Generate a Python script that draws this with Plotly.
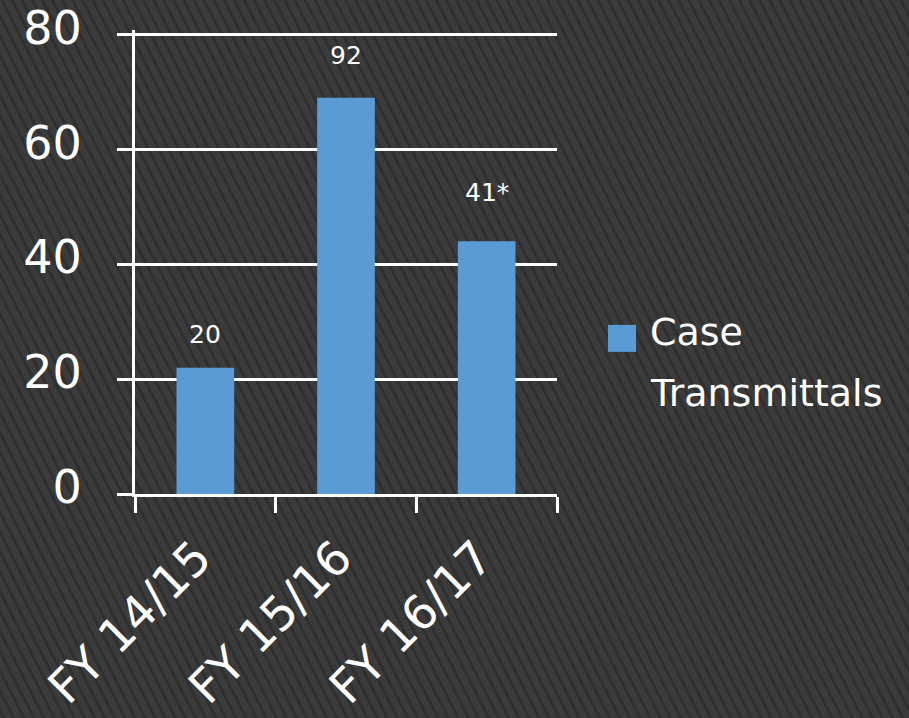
import base64
import plotly.graph_objects as go

# ---- data ----
categories = ["FY 14/15", "FY 15/16", "FY 16/17"]
bar_values = [22, 69, 44]
bar_labels = ["20", "92", "41*"]
series_name = "Case Transmittals"
y_ticks = [0, 20, 40, 60, 80]
y_max = 80

BAR_COLOR = "#5b9bd5"
FONT = "DejaVu Sans, Verdana, sans-serif"
LABEL_LIFT = [33, 42, 49]

W, H = 909, 718
Y_ZERO_PX, Y_MAX_PX = 494, 35          # pixel rows of 0 and y_max
HEADROOM = 0.8                          # extra range so the top gridline is drawn
PX_PER_UNIT = (Y_ZERO_PX - Y_MAX_PX) / y_max
L, R = 135, 557
B = Y_ZERO_PX
T = Y_MAX_PX - HEADROOM * PX_PER_UNIT


def px(x):
    return (x - L) / (R - L)


def py(y):
    return (B - y) / (B - T)


# striped background (decoration)
svg = (
    f'<svg xmlns="http://www.w3.org/2000/svg" width="{W}" height="{H}">'
    '<defs><pattern id="p" width="9" height="9" patternUnits="userSpaceOnUse" '
    'patternTransform="rotate(-27)">'
    '<rect width="9" height="9" fill="#3b3b3b"/>'
    '<rect x="0" y="0" width="3" height="9" fill="#2f2f2f"/>'
    '</pattern></defs>'
    f'<rect width="{W}" height="{H}" fill="url(#p)"/></svg>'
)
bg_uri = "data:image/svg+xml;base64," + base64.b64encode(svg.encode()).decode()

fig = go.Figure()
fig.add_trace(go.Bar(
    x=categories, y=bar_values, name=series_name,
    marker=dict(color=BAR_COLOR, line=dict(width=0)),
    showlegend=False, hoverinfo="skip",
))

for c, v, t, lift in zip(categories, bar_values, bar_labels, LABEL_LIFT):
    fig.add_annotation(x=c, y=v, text=t, showarrow=False, yshift=lift,
                       font=dict(size=25, color="white", family=FONT),
                       xref="x", yref="y")

# legend key + text
fig.add_shape(type="rect", xref="paper", yref="paper",
              x0=px(608), x1=px(636), y0=py(352), y1=py(325),
              fillcolor=BAR_COLOR, line=dict(width=0))
words = series_name.split(" ")
for i, w in enumerate(words):
    fig.add_annotation(xref="paper", yref="paper", x=px(648), y=py(332 + 61 * i),
                       xanchor="left", yanchor="middle", text=w, showarrow=False,
                       font=dict(size=38, color="white", family=FONT))

fig.update_layout(
    width=W, height=H,
    margin=dict(l=L, r=W - R, t=T, b=H - B, autoexpand=False),
    paper_bgcolor="#3b3b3b", plot_bgcolor="rgba(0,0,0,0)",
    bargap=0.59,
    images=[dict(source=bg_uri, xref="paper", yref="paper", x=px(0), y=py(0),
                 sizex=W / (R - L), sizey=H / (B - T), xanchor="left", yanchor="top",
                 sizing="stretch", layer="below")],
    font=dict(family=FONT, color="white"),
)
fig.update_xaxes(
    showline=True, linecolor="white", linewidth=3,
    ticks="outside", tickson="boundaries", ticklen=16, tickwidth=3, tickcolor="white",
    tickangle=-45, tickfont=dict(size=47, color="white", family=FONT),
    ticklabelstandoff=14, ticklabelshift=-8, ticklabeloverflow="allow",
    showgrid=False,
)
fig.update_yaxes(
    range=[0, y_max + HEADROOM], tickvals=y_ticks, showline=True, linecolor="white",
    linewidth=3, ticks="outside", ticklen=15, tickwidth=3, tickcolor="white",
    showgrid=True, gridcolor="white", gridwidth=3, zeroline=False,
    tickfont=dict(size=46, color="white", family=FONT), ticklabelstandoff=26,
    ticklabelshift=-7, ticklabeloverflow="allow",
)

fig.write_html("out.html", config={"displayModeBar": False},
               post_script="document.body.style.margin='0';")
